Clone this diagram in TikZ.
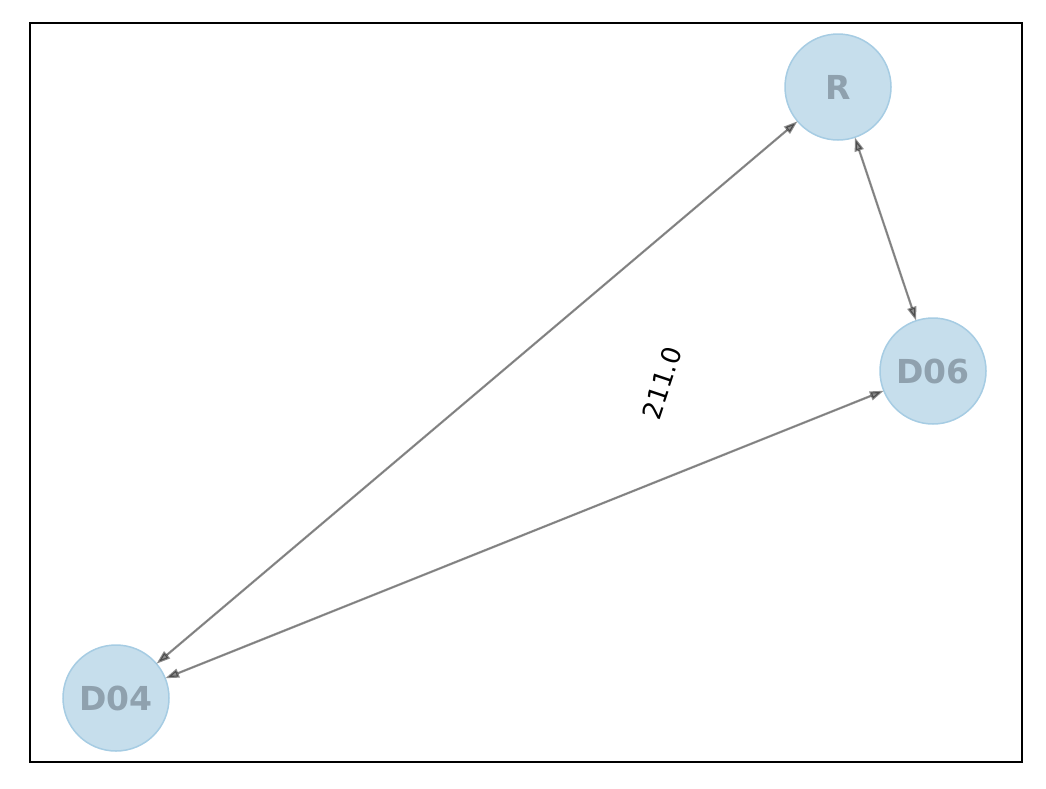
\documentclass[tikz,border=0pt]{standalone}
\usepackage{fontspec}
\setmainfont{DejaVu Sans}
\usetikzlibrary{arrows.meta}
\definecolor{nodefill}{HTML}{C6DEEC}
\definecolor{nodeline}{HTML}{A6CCE3}
\definecolor{nodetext}{HTML}{8FA1AE}

\begin{document}
\begin{tikzpicture}[x=1pt,y=-1pt,every node/.style={circle,fill=nodefill,draw=nodeline,line width=1.5pt,minimum size=106pt,inner sep=0pt,outer sep=0pt,text=nodetext,font=\fontsize{33}{38}\selectfont\bfseries}]
\useasboundingbox (0,0) rectangle (1046,788);
\draw[line width=1.6pt] (30,23) rectangle (1022,762);

\node (R) at (838,87) {R};
\node (D06) at (933,371) {D06};
\node (D04) at (116,698) {D04};

\draw[{Triangle[length=14pt,width=9pt]}-{Triangle[length=14pt,width=9pt]},line width=2.2pt,draw=black,fill=black,opacity=0.45] (D04) -- (R);
\draw[{Triangle[length=14pt,width=9pt]}-{Triangle[length=14pt,width=9pt]},line width=2.2pt,draw=black,fill=black,opacity=0.45] (R) -- (D06);
\draw[{Triangle[length=14pt,width=9pt]}-{Triangle[length=14pt,width=9pt]},line width=2.2pt,draw=black,fill=black,opacity=0.45] (D06) -- (D04);

\node[draw=none,fill=none,minimum size=0pt,text=black,font=\fontsize{26}{30}\selectfont,rotate=71.5] (lbl) at (662,383) {211.0};
\end{tikzpicture}
\end{document}
